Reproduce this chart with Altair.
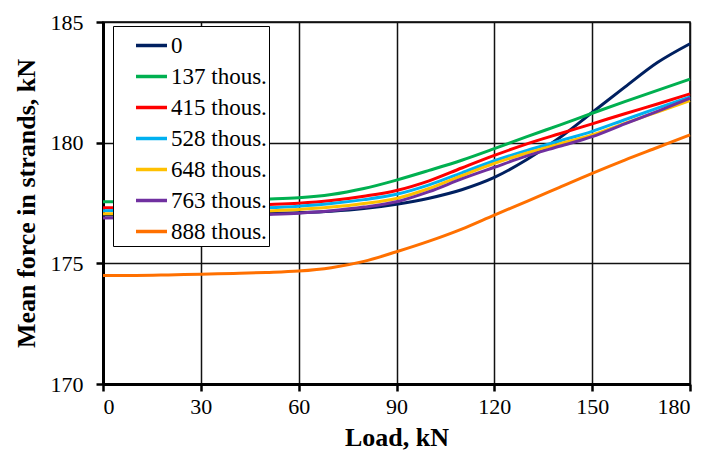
import altair as alt
import pandas as pd

load = [0, 10, 20, 30, 40, 50, 60, 70, 80, 90, 100, 110, 120, 130, 140, 150, 160, 170, 180]

series_names = ["0", "137 thous.", "415 thous.", "528 thous.", "648 thous.", "763 thous.", "888 thous."]
series_colors = ["#002060", "#00B050", "#FF0000", "#00B0F0", "#FFC000", "#7030A0", "#FF7000"]

f_0 = [177.0, 177.0, 177.01, 177.02, 177.04, 177.06, 177.1, 177.16, 177.27, 177.45,
       177.7, 178.05, 178.56, 179.3, 180.2, 181.25, 182.3, 183.32, 184.1]
f_137 = [177.55, 177.56, 177.58, 177.6, 177.63, 177.67, 177.72, 177.85, 178.1, 178.45,
         178.85, 179.27, 179.75, 180.25, 180.73, 181.22, 181.7, 182.17, 182.63]
f_415 = [177.3, 177.31, 177.33, 177.35, 177.38, 177.43, 177.49, 177.6, 177.78, 178.02,
         178.42, 178.95, 179.47, 179.95, 180.37, 180.78, 181.2, 181.6, 182.02]
f_528 = [177.18, 177.19, 177.2, 177.22, 177.25, 177.3, 177.37, 177.48, 177.64, 177.86,
         178.25, 178.75, 179.25, 179.68, 180.07, 180.47, 180.95, 181.43, 181.9]
f_648 = [177.05, 177.06, 177.07, 177.09, 177.12, 177.17, 177.23, 177.33, 177.48, 177.69,
         178.1, 178.63, 179.14, 179.57, 179.95, 180.32, 180.8, 181.27, 181.74]
f_763 = [176.88, 176.89, 176.91, 176.94, 176.97, 177.02, 177.08, 177.18, 177.33, 177.55,
         177.97, 178.5, 178.98, 179.45, 179.85, 180.25, 180.78, 181.3, 181.84]
f_888 = [174.5, 174.5, 174.52, 174.55, 174.58, 174.62, 174.68, 174.82, 175.08, 175.48,
         175.92, 176.42, 177.0, 177.57, 178.15, 178.73, 179.28, 179.8, 180.32]

x_ticks = [0, 30, 60, 90, 120, 150, 180]
y_ticks = [170, 175, 180, 185]

all_series = [f_0, f_137, f_415, f_528, f_648, f_763, f_888]
rows = []
for order, (name, vals) in enumerate(zip(series_names, all_series)):
    for x, y in zip(load, vals):
        rows.append({"Load": x, "Force": y, "Series": name, "order": order})
df = pd.DataFrame(rows)

FONT = "Liberation Serif"

chart = alt.Chart(df).mark_line(strokeWidth=3, interpolate="monotone").encode(
    x=alt.X("Load:Q",
            scale=alt.Scale(domain=[0, 180], nice=False),
            axis=alt.Axis(values=x_ticks, title="Load, kN", tickSize=7, labelPadding=5,
                          titlePadding=7, labelFont=FONT, titleFont=FONT)),
    y=alt.Y("Force:Q",
            scale=alt.Scale(domain=[170, 185], nice=False, zero=False),
            axis=alt.Axis(values=y_ticks, title="Mean force in strands, kN", tickSize=7,
                          labelPadding=13, titlePadding=11, labelFont=FONT, titleFont=FONT)),
    color=alt.Color("Series:N",
                    scale=alt.Scale(domain=series_names, range=series_colors),
                    legend=alt.Legend(title=None, orient="none", legendX=10, legendY=4,
                                      symbolType="stroke", symbolSize=961,
                                      symbolStrokeWidth=3.5, symbolOffset=19,
                                      labelFont=FONT, labelFontSize=23, labelColor="black",
                                      labelOffset=2, rowPadding=1, padding=2,
                                      strokeColor="black", fillColor="white")),
    order=alt.Order("order:Q"),
    detail="Series:N",
).properties(
    width=587, height=362,
    autosize=alt.AutoSizeParams(type="none"),
    padding={"left": 95, "top": 14, "right": 10, "bottom": 68},
).configure_view(
    stroke="black", strokeWidth=1.5
).configure_axis(
    labelFont=FONT, labelFontSize=22, labelColor="black",
    titleFont=FONT, titleFontSize=26, titleFontWeight="bold", titleColor="black",
    domainColor="black", domainWidth=3, tickColor="black", tickWidth=2.5,
    gridColor="#111111", gridWidth=1.5, gridOpacity=1,
).configure_legend(
    labelFont=FONT
)

chart.save("out.html", embed_options={"renderer": "svg", "actions": False})
